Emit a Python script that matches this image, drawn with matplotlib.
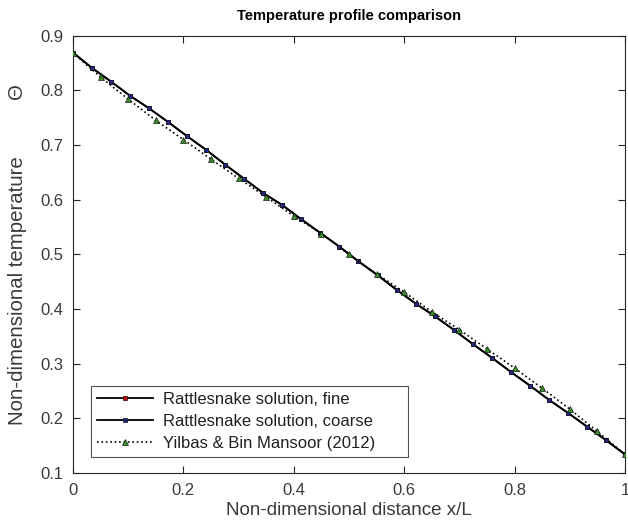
import numpy as np
import matplotlib
matplotlib.use("Agg")
import matplotlib.pyplot as plt

plt.rcParams['font.family'] = ['Liberation Sans', 'DejaVu Sans']

# Data
x_coarse = [i / 29 for i in range(30)]
theta_coarse = [0.869, 0.841, 0.816, 0.790, 0.767, 0.742, 0.716, 0.691, 0.664, 0.638,
                0.612, 0.590, 0.564, 0.539, 0.514, 0.487, 0.462, 0.435, 0.410, 0.387,
                0.362, 0.336, 0.311, 0.285, 0.260, 0.234, 0.210, 0.185, 0.160, 0.134]
x_fine = [i / 29 for i in range(30)]
theta_fine = [0.869, 0.841, 0.816, 0.790, 0.767, 0.742, 0.716, 0.691, 0.664, 0.638,
              0.612, 0.590, 0.564, 0.539, 0.514, 0.487, 0.462, 0.435, 0.410, 0.387,
              0.362, 0.336, 0.311, 0.285, 0.260, 0.234, 0.210, 0.185, 0.160, 0.134]
x_ref = [0.00, 0.05, 0.10, 0.15, 0.20, 0.25, 0.30, 0.35, 0.40, 0.45, 0.50,
         0.55, 0.60, 0.65, 0.70, 0.75, 0.80, 0.85, 0.90, 0.95, 1.00]
theta_ref = [0.869, 0.824, 0.784, 0.745, 0.710, 0.674, 0.639, 0.605, 0.570, 0.538, 0.500,
             0.464, 0.431, 0.395, 0.362, 0.327, 0.292, 0.255, 0.217, 0.176, 0.134]

labels = ["Rattlesnake solution, fine", "Rattlesnake solution, coarse",
          "Yilbas & Bin Mansoor (2012)"]
xticks = [0, 0.2, 0.4, 0.6, 0.8, 1]
xticklabels = ["0", "0.2", "0.4", "0.6", "0.8", "1"]
yticks = [0.1, 0.2, 0.3, 0.4, 0.5, 0.6, 0.7, 0.8, 0.9]
yticklabels = ["0.1", "0.2", "0.3", "0.4", "0.5", "0.6", "0.7", "0.8", "0.9"]

fig = plt.figure(figsize=(6.28, 5.27), dpi=100)
ax = fig.add_axes([0.1162, 0.1025, 0.8790, 0.8298])

gray = '#262626'
ax.plot(x_fine, theta_fine, '-', color='black', lw=1.3, marker='s', ms=2.5,
        mfc='#c00000', mec='#300000', mew=0.5, label=labels[0], zorder=3)
ax.plot(x_coarse, theta_coarse, '-', color='black', lw=1.3, marker='s', ms=3.5,
        mfc='#1f2a80', mec='#101020', mew=0.5, label=labels[1], zorder=4)
ax.plot(x_ref, theta_ref, ':', color='black', lw=1.2, marker='^', ms=4.5,
        mfc='#3c8c28', mec='#102010', mew=0.5, label=labels[2], zorder=5)

ax.set_xlim(0, 1)
ax.set_ylim(0.1, 0.9)
ax.set_xticks(xticks)
ax.set_xticklabels(xticklabels)
ax.set_yticks(yticks)
ax.set_yticklabels(yticklabels)
ax.tick_params(direction='in', length=5, width=0.8, top=True, right=True,
               labelsize=12, colors=gray, labelcolor='#3a3a3a', pad=7)
for s in ax.spines.values():
    s.set_color(gray)
    s.set_linewidth(0.8)

ax.set_title("Temperature profile comparison", fontsize=10.5, fontweight='bold',
             color='black', pad=11)
ax.set_xlabel("Non-dimensional distance x/L", fontsize=13.5, color='#3a3a3a', labelpad=3)
ax.set_ylabel("Non-dimensional temperature          \u0398", fontsize=14.7,
              color='#3a3a3a')
ax.yaxis.set_label_coords(-0.083, 0.5)

leg = ax.legend(loc='lower left', bbox_to_anchor=(0.0325, 0.0366, 0.575, 0.2),
                mode='expand', fontsize=12,
                handlelength=3.4, frameon=True, fancybox=False, borderpad=0.35,
                labelspacing=0.42, handletextpad=0.6, borderaxespad=0)
leg.get_frame().set_edgecolor(gray)
leg.get_frame().set_linewidth(0.8)
for t in leg.get_texts():
    t.set_color('#202020')

fig.savefig("out.png", dpi=100)
